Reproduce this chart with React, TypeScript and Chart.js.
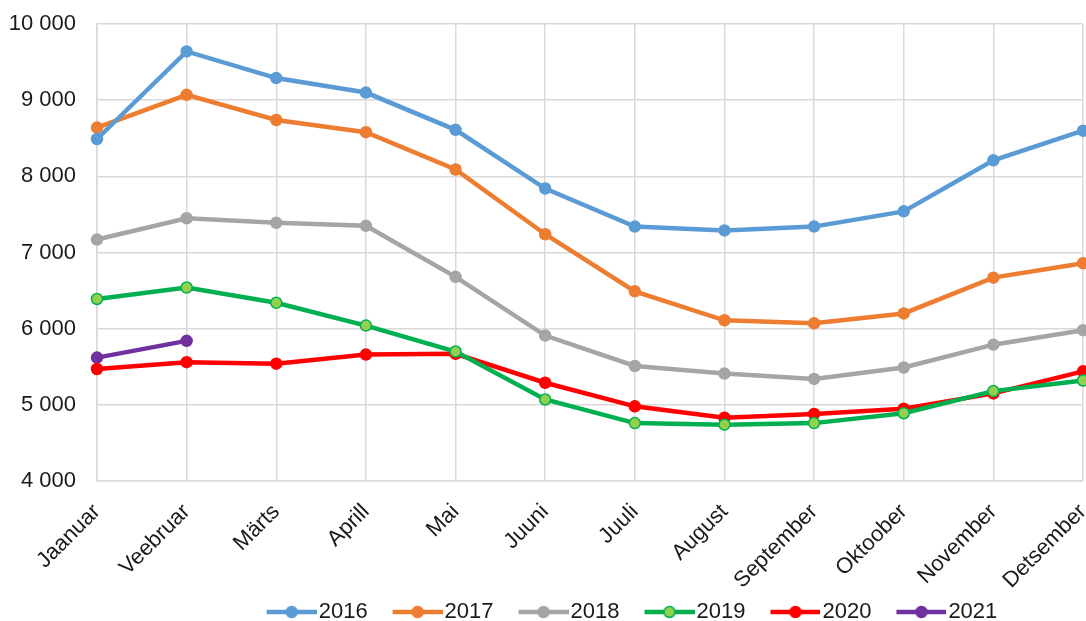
import React, { useEffect, useRef } from "react";
import { Chart, registerables } from "chart.js";

Chart.register(...registerables);

const months = ["Jaanuar", "Veebruar", "Märts", "Aprill", "Mai", "Juuni", "Juuli", "August", "September", "Oktoober", "November", "Detsember"];
const years = ["2016", "2017", "2018", "2019", "2020", "2021"];
const v2016 = [8490, 9640, 9290, 9100, 8610, 7840, 7340, 7290, 7340, 7540, 8210, 8600];
const v2017 = [8640, 9070, 8740, 8580, 8090, 7240, 6490, 6110, 6070, 6200, 6670, 6860];
const v2018 = [7170, 7450, 7390, 7350, 6680, 5910, 5510, 5410, 5340, 5490, 5790, 5980];
const v2019 = [6390, 6540, 6340, 6040, 5700, 5070, 4760, 4740, 4760, 4890, 5180, 5320];
const v2020 = [5470, 5560, 5540, 5660, 5670, 5290, 4980, 4830, 4880, 4950, 5150, 5440];
const v2021 = [5620, 5840];
const yMin = 4000;
const yMax = 10000;
const yStep = 1000;

const seriesValues = [v2016, v2017, v2018, v2019, v2020, v2021];
const lineColors = ["#5B9BD5", "#ED7D31", "#A5A5A5", "#00B050", "#FF0000", "#7030A0"];
const markerFills = ["#5B9BD5", "#ED7D31", "#A5A5A5", "#92D050", "#FF0000", "#7030A0"];

const FONT = "'Liberation Sans', Arial, sans-serif";

// legend swatch: transparent left part, then a 50px line with a centred dot
function legendMarker(line: string, fill: string): HTMLCanvasElement {
  const c = document.createElement("canvas");
  c.width = 74;
  c.height = 16;
  const ctx = c.getContext("2d")!;
  ctx.strokeStyle = line;
  ctx.lineWidth = 4.5;
  ctx.beginPath();
  ctx.moveTo(24, 8);
  ctx.lineTo(74, 8);
  ctx.stroke();
  ctx.beginPath();
  ctx.arc(49, 8, 5.5, 0, Math.PI * 2);
  ctx.fillStyle = fill;
  ctx.fill();
  ctx.lineWidth = 1.5;
  ctx.strokeStyle = line;
  ctx.stroke();
  return c;
}

const fmt = (v: number) => String(v).replace(/\B(?=(\d{3})+(?!\d))/g, " ");

export default function App() {
  const ref = useRef<HTMLCanvasElement | null>(null);
  useEffect(() => {
    if (!ref.current) return;
    const markers = years.map((_, i) => legendMarker(lineColors[i], markerFills[i]));
    const shiftLegend = {
      id: "shiftLegend",
      afterLayout(chart: any) {
        const lg = chart.legend;
        if (!lg) return;
        lg.left += 83;
        lg.right += 83;
        lg.top += 12;
        lg.bottom += 12;
      },
    };
    const chart = new Chart(ref.current, {
      type: "line",
      data: {
        labels: months,
        datasets: years.map((y, i) => ({
          label: y,
          data: seriesValues[i],
          borderColor: lineColors[i],
          backgroundColor: markerFills[i],
          pointBackgroundColor: markerFills[i],
          pointBorderColor: lineColors[i],
          pointBorderWidth: 1.5,
          pointRadius: 5.5,
          borderWidth: 4.5,
          tension: 0,
          fill: false,
          clip: 8,
        })),
      },
      options: {
        responsive: false,
        animation: false,
        layout: { autoPadding: false, padding: { top: 24, right: 3, left: 0, bottom: 0 } },
        plugins: {
          tooltip: { enabled: false },
          legend: {
            position: "bottom",
            labels: {
              usePointStyle: true,
              pointStyleWidth: 56,
              boxHeight: 16,
              padding: 10,
              color: "#1a1a1a",
              font: { family: FONT, size: 22 },
              generateLabels: () =>
                years.map((y, i) => ({
                  text: y,
                  datasetIndex: i,
                  pointStyle: markers[i],
                  fillStyle: markerFills[i],
                  strokeStyle: lineColors[i],
                  lineWidth: 0,
                  hidden: false,
                  fontColor: "#1a1a1a",
                })),
            },
          },
        },
        scales: {
          x: {
            grid: { color: "#d9d9d9", lineWidth: 1.5, drawTicks: false },
            border: { color: "#d9d9d9", width: 1.5 },
            ticks: {
              maxRotation: 45,
              minRotation: 45,
              autoSkip: false,
              padding: 18,
              color: "#1a1a1a",
              font: { family: FONT, size: 22 },
            },
            afterFit: (s: any) => {
              s.height = 98;
              s.paddingLeft = 0;
              s.paddingRight = 0;
              s._computeLabelArea = () => undefined;
            },
          },
          y: {
            min: yMin,
            max: yMax,
            grid: { color: "#d9d9d9", lineWidth: 1.5, drawTicks: false },
            border: { color: "#d9d9d9", width: 1.5 },
            ticks: {
              stepSize: yStep,
              padding: 21,
              color: "#1a1a1a",
              font: { family: FONT, size: 22 },
              callback: (v: any) => fmt(Number(v)),
            },
            afterFit: (s: any) => {
              s.width = 97;
              s.paddingTop = 0;
              s.paddingBottom = 0;
            },
          },
        },
      },
      plugins: [shiftLegend],
    } as any);
    return () => chart.destroy();
  }, []);
  return (
    <div style={{ position: "absolute", left: 0, top: 0, width: 1086, height: 621, background: "#fff" }}>
      <canvas ref={ref} width={1086} height={621} />
    </div>
  );
}
